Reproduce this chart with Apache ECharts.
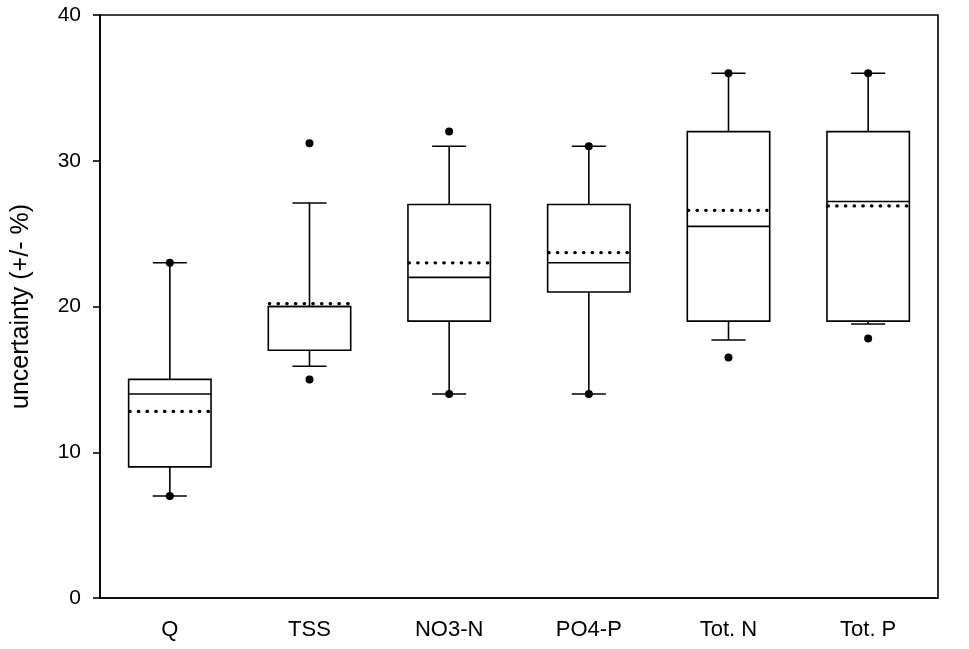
<!DOCTYPE html>
<html>
<head>
    <meta charset="UTF-8">
    <title>uncertainty box plot</title>
    <style>
        html, body { margin: 0; padding: 0; background: #fff; }
        #main { width: 969px; height: 649px; }
    </style>
    <script src="https://cdn.jsdelivr.net/npm/echarts@6/dist/echarts.min.js"></script>
</head>
<body>
<div id="main"></div>
<script>
    // categories and box statistics
    var categories = ['Q', 'TSS', 'NO3-N', 'PO4-P', 'Tot. N', 'Tot. P'];
    var whiskerLow = [7, 15.9, 14, 14, 17.7, 18.8];     // 10th percentile
    var q1 = [9, 17, 19, 21, 19, 19];
    var median = [14, 20, 22, 23, 25.5, 27.2];
    var q3 = [15, 20, 27, 27, 32, 32];
    var whiskerHigh = [23, 27.1, 31, 31, 36, 36];       // 90th percentile
    var mean = [12.8, 20.2, 23, 23.7, 26.6, 26.9];
    var p5 = [7, 15, 14, 14, 16.5, 17.8];               // outlying points
    var p95 = [23, 31.2, 32, 31, 36, 36];
    var yTicks = [0, 10, 20, 30, 40];

    var boxData = categories.map(function (c, i) {
        return [i, whiskerLow[i], q1[i], median[i], q3[i], whiskerHigh[i], mean[i]];
    });
    var pointData = [];
    categories.forEach(function (c, i) {
        pointData.push([i, p5[i]]);
        pointData.push([i, p95[i]]);
    });

    var lineStyle = {stroke: '#000', lineWidth: 1.6};

    function renderBox(params, api) {
        var idx = api.value(0);
        var band = api.size([1, 0])[0];
        var cx = api.coord([idx, 0])[0];
        var half = band * 0.295;
        var cap = band * 0.122;
        var y = function (v) { return api.coord([idx, v])[1]; };
        var yLow = y(api.value(1)), yQ1 = y(api.value(2)), yMed = y(api.value(3));
        var yQ3 = y(api.value(4)), yHigh = y(api.value(5)), yMean = y(api.value(6));
        return {
            type: 'group',
            children: [
                {type: 'line', shape: {x1: cx, y1: yQ3, x2: cx, y2: yHigh}, style: lineStyle},
                {type: 'line', shape: {x1: cx, y1: yQ1, x2: cx, y2: yLow}, style: lineStyle},
                {type: 'line', shape: {x1: cx - cap, y1: yHigh, x2: cx + cap, y2: yHigh}, style: lineStyle},
                {type: 'line', shape: {x1: cx - cap, y1: yLow, x2: cx + cap, y2: yLow}, style: lineStyle},
                {type: 'rect', shape: {x: cx - half, y: yQ3, width: half * 2, height: yQ1 - yQ3},
                    style: {fill: '#fff', stroke: '#000', lineWidth: 1.6}},
                {type: 'line', shape: {x1: cx - half, y1: yMed, x2: cx + half, y2: yMed}, style: lineStyle},
                {type: 'line', shape: {x1: cx - half + 1, y1: yMean, x2: cx + half - 2, y2: yMean},
                    style: {stroke: '#000', lineWidth: 3.2, lineCap: 'round', lineDash: [0.5, 8.2]}}
            ]
        };
    }

    var chart = echarts.init(document.getElementById('main'));
    var option = {
        animation: false,
        grid: {
            left: 100, right: 31, top: 15, bottom: 51,
            show: true, borderColor: '#000', borderWidth: 1.6
        },
        xAxis: {
            type: 'category',
            data: categories,
            boundaryGap: true,
            axisLine: {lineStyle: {color: '#000', width: 1.6}},
            axisTick: {alignWithLabel: true, length: 7, lineStyle: {color: '#000', width: 1.6}},
            axisLabel: {color: '#000', fontFamily: 'Liberation Sans', fontSize: 22, margin: 21}
        },
        yAxis: {
            type: 'value',
            min: yTicks[0],
            max: yTicks[yTicks.length - 1],
            interval: 10,
            name: 'uncertainty (+/- %)',
            nameLocation: 'middle',
            nameGap: 66,
            nameTextStyle: {color: '#000', fontFamily: 'Liberation Sans', fontSize: 25},
            axisLine: {show: true, lineStyle: {color: '#000', width: 1.6}},
            axisTick: {show: true, length: 7, lineStyle: {color: '#000', width: 1.6}},
            axisLabel: {color: '#000', fontFamily: 'Liberation Sans', fontSize: 21, margin: 19},
            splitLine: {show: false}
        },
        series: [
            {
                type: 'custom',
                renderItem: renderBox,
                data: boxData,
                encode: {x: 0, y: [1, 2, 3, 4, 5, 6]},
                z: 2
            },
            {
                type: 'scatter',
                data: pointData,
                symbol: 'circle',
                symbolSize: 8,
                itemStyle: {color: '#000', opacity: 1},
                z: 3
            }
        ]
    };
    chart.setOption(option);
</script>
</body>
</html>
